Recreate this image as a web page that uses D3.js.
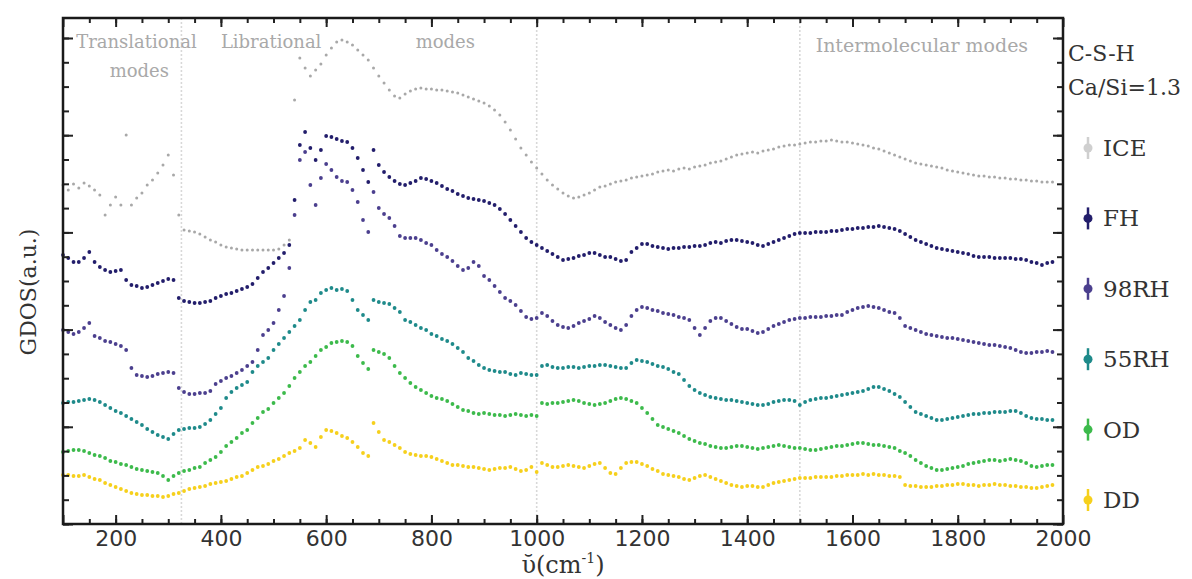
<!DOCTYPE html>
<html>
<head>
<meta charset="utf-8">
<script src="https://d3js.org/d3.v7.min.js"></script>
<style>
  body { margin: 0; background: #fff; }
</style>
</head>
<body>
<div id="my_dataviz"></div>
<script>
// wavenumber grid (cm-1), one reading every 10 cm-1
var wavenumbers = d3.range(100, 1981, 10);

// GDOS readings (a.u., stacked offsets as in the figure)
var iceValues = [
  339,334,340,336,341,338,334,329,309,319,
  327,319,389,319,326,331,339,344,351,359,
  369,349,309,294,293,292,290,287,284,282,
  279,277,276,275,274,274,274,274,274,274,
  274,275,279,284,424,466,456,448,454,460,
  469,476,482,484,482,479,474,469,464,456,
  448,441,434,428,426,430,433,435,436,435,
  435,434,434,433,432,431,429,427,425,423,
  421,418,414,409,402,394,385,376,369,362,
  356,350,344,339,335,331,328,326,327,329,
  331,334,337,338,340,342,343,344,346,347,
  348,349,350,352,353,354,353,355,356,355,
  357,358,359,361,362,363,365,367,369,370,
  371,372,371,373,374,375,377,378,379,379,
  380,381,382,382,383,383,384,383,382,382,
  381,380,379,378,376,375,373,371,369,367,
  365,363,361,360,359,358,357,356,354,353,
  352,351,350,349,348,348,347,347,346,346,
  345,345,344,344,343,343,342,342,342
];
var fhValues = [
  269,266,262,262,266,272,262,257,254,252,
  253,254,244,239,238,236,237,239,241,243,
  245,244,226,223,222,221,221,222,223,226,
  228,230,231,233,235,237,240,246,252,256,
  261,266,271,279,324,379,392,376,364,374,
  388,387,385,383,382,376,366,354,342,374,
  359,352,347,343,340,339,341,343,346,345,
  343,341,338,335,333,330,328,326,325,324,
  323,321,319,315,310,304,298,292,286,282,
  279,276,273,270,267,264,265,266,268,269,
  271,271,269,267,267,265,263,264,272,276,
  280,280,278,277,276,275,276,276,277,277,
  278,278,279,281,282,281,283,284,284,283,
  282,281,279,278,280,282,284,286,288,290,
  291,291,291,292,292,292,293,293,294,295,
  295,296,296,297,297,298,297,296,295,293,
  290,287,284,282,280,278,276,275,274,273,
  272,271,270,268,267,267,267,266,266,266,
  266,265,265,264,262,261,259,261,262
];
var rh98Values = [
  194,192,190,192,196,201,188,186,183,182,
  180,178,174,156,149,148,147,148,150,151,
  152,151,136,132,130,130,131,131,133,140,
  143,146,148,151,154,158,162,174,189,194,
  201,214,228,256,309,364,372,339,319,346,
  360,354,347,343,342,334,322,304,292,332,
  316,310,306,298,288,286,286,286,284,281,
  279,274,270,267,263,258,254,256,262,258,
  248,244,238,232,226,223,219,213,207,205,
  206,211,208,203,199,197,196,198,201,203,
  205,208,206,202,199,196,194,199,208,214,
  217,216,214,213,211,210,209,207,206,204,
  196,189,196,203,206,206,203,200,197,195,
  195,193,191,192,195,198,200,202,204,205,
  206,206,207,207,207,208,208,209,209,212,
  214,216,217,218,217,216,214,212,211,206,
  198,196,194,192,190,189,188,187,186,186,
  185,184,183,182,181,180,179,179,178,177,
  176,174,172,171,171,172,172,173,172
];
var rh55Values = [
  121,122,122,123,124,125,124,122,119,116,
  113,111,108,105,102,99,95,92,89,87,
  85,90,94,95,96,96,97,100,104,110,
  116,126,132,136,139,142,152,158,162,166,
  174,180,186,192,198,204,214,222,224,231,
  234,236,234,235,233,224,214,209,204,224,
  222,221,220,216,212,204,202,199,196,194,
  190,188,185,183,180,176,172,166,163,159,
  156,154,153,152,152,150,149,151,150,149,
  149,158,159,157,156,156,157,157,156,157,
  158,158,159,159,158,157,156,156,161,164,
  163,162,160,158,157,155,152,150,144,138,
  134,131,129,127,126,125,124,124,123,122,
  121,120,119,119,120,122,123,124,124,123,
  119,122,124,125,126,126,127,128,129,130,
  131,132,133,135,137,137,135,133,130,127,
  122,117,112,110,108,106,104,104,105,106,
  107,108,109,110,110,111,111,112,112,112,
  113,113,111,108,106,105,105,104,104
];
var odValues = [
  72,73,74,74,73,71,69,68,66,63,
  62,60,59,57,55,54,53,52,51,48,
  44,48,51,53,54,56,57,61,64,67,
  72,78,82,86,91,94,101,106,112,115,
  121,126,131,138,146,152,158,162,168,174,
  177,181,182,183,182,178,168,161,155,174,
  172,170,166,158,151,146,141,137,134,131,
  128,126,125,123,120,117,114,113,111,110,
  111,110,109,109,108,109,110,109,108,109,
  108,121,120,121,121,122,123,124,123,121,
  120,119,120,121,123,125,126,125,123,121,
  116,111,105,99,97,95,93,91,88,85,
  83,81,80,78,77,76,76,77,78,78,
  77,76,75,76,77,78,79,78,77,76,
  76,75,74,74,75,76,77,78,78,79,
  80,81,81,80,79,79,78,77,76,73,
  71,68,64,61,58,56,54,54,55,56,
  57,58,60,61,62,63,64,64,63,64,
  65,64,63,61,58,57,58,59,59
];
var ddValues = [
  49,49,48,48,49,47,45,44,41,39,
  37,35,33,31,30,29,29,28,28,27,
  28,30,31,33,35,36,37,38,40,41,
  42,43,45,47,48,51,54,57,58,60,
  63,65,68,71,73,76,84,81,77,87,
  94,93,91,88,86,82,77,71,68,101,
  92,84,82,79,76,72,70,69,68,68,
  67,65,63,61,59,59,58,57,57,56,
  55,54,55,56,56,57,55,53,54,57,
  52,61,59,57,57,58,59,58,57,56,
  58,60,61,56,51,50,56,61,62,62,
  60,58,55,53,50,49,48,47,45,44,
  46,48,49,47,45,43,41,39,38,37,
  38,38,37,37,39,41,42,43,44,45,
  46,46,46,47,47,47,47,48,48,49,
  49,49,50,49,50,49,49,48,48,47,
  39,38,38,37,37,37,38,38,39,39,
  40,40,39,39,38,39,39,40,39,39,
  38,38,37,37,36,36,37,38,39
];

var seriesNames = ["ICE", "FH", "98RH", "55RH", "OD", "DD"];
var seriesValues = [iceValues, fhValues, rh98Values, rh55Values, odValues, ddValues];
var seriesColors = ["#a8a8a8", "#221d6b", "#4b3f8e", "#1e8a8a", "#3cba4b", "#f6d01c"];
var legendColors = ["#cfcfcf", "#221d6b", "#4b3f8e", "#1e8a8a", "#3cba4b", "#f6d01c"];

var xMajorTicks = [100, 200, 400, 600, 800, 1000, 1200, 1400, 1600, 1800, 2000];
var xMinorTicks = d3.range(150, 2000, 50);
var yMajorStep = 97.2, yMinorStep = 24.3;
var regionLines = [325, 1000, 1500];
var regionLabels = [
  { text: "Translational", v: 125, y: 48, anchor: "start" },
  { text: "modes", v: 245, y: 77, anchor: "middle" },
  { text: "Librational", v: 400, y: 48, anchor: "start" },
  { text: "modes", v: 770, y: 48, anchor: "start" },
  { text: "Intermolecular modes", v: 1530, y: 52, anchor: "start" }
];

var margin = { top: 18, right: 129, bottom: 55, left: 63 },
    width = 1192 - margin.left - margin.right,
    height = 579 - margin.top - margin.bottom;

var svg = d3
    .select("#my_dataviz")
    .append("svg")
    .attr("width", 1192)
    .attr("height", 579)
    .append("g")
    .attr("transform", "translate(" + margin.left + "," + margin.top + ")");

var x = d3.scaleLinear().domain([100, 2000]).range([0, width]);
var y = d3.scaleLinear().domain([0, height]).range([height, 0]);

var yMajorTicks = d3.range(0, height, yMajorStep);
var yMinorTicks = d3.range(0, height, yMinorStep);

// region separators
svg.selectAll(".region-line")
    .data(regionLines)
    .enter()
    .append("line")
    .attr("x1", (d) => x(d))
    .attr("x2", (d) => x(d))
    .attr("y1", 0)
    .attr("y2", height)
    .style("stroke", "#d8d8d8")
    .style("stroke-width", 1.6)
    .style("stroke-dasharray", "2,2");

// region labels
svg.selectAll(".region-label")
    .data(regionLabels)
    .enter()
    .append("text")
    .attr("x", (d) => x(d.v))
    .attr("y", (d) => d.y - margin.top)
    .attr("text-anchor", (d) => d.anchor)
    .style("font-family", "DejaVu Serif")
    .style("font-size", (d) => (d.text.length > 15 ? "19px" : "18px"))
    .style("fill", "#a9a9a9")
    .text((d) => d.text);

// dots, ICE drawn first so the coloured sets sit on top
seriesValues.forEach(function (values, s) {
    svg.append("g")
        .selectAll("circle")
        .data(values.map((v, i) => ({ x: wavenumbers[i], y: v })))
        .enter()
        .append("circle")
        .attr("cx", (d) => x(d.x))
        .attr("cy", (d) => y(d.y))
        .attr("r", s === 0 ? 1.5 : 1.9)
        .style("fill", seriesColors[s]);
});

// axes: ticks on all four sides, pointing inward
function styleAxis(g) {
    g.select(".domain").remove();
    g.selectAll(".tick line").style("stroke", "#222").style("stroke-width", 2);
}
svg.append("g").attr("transform", "translate(0," + height + ")")
    .call(d3.axisBottom(x).tickValues(xMinorTicks).tickSize(-5).tickFormat(""))
    .call(styleAxis);
svg.append("g").attr("transform", "translate(0," + height + ")")
    .call(d3.axisBottom(x).tickValues(xMajorTicks).tickSize(-9).tickPadding(6)
        .tickFormat((d) => (d === 100 ? "" : d)))
    .call(styleAxis)
    .selectAll("text")
    .style("font-family", "DejaVu Sans")
    .style("font-size", "22px")
    .style("fill", "#333");
svg.append("g")
    .call(d3.axisTop(x).tickValues(xMinorTicks).tickSize(-5).tickFormat(""))
    .call(styleAxis);
svg.append("g")
    .call(d3.axisTop(x).tickValues(xMajorTicks).tickSize(-9).tickFormat(""))
    .call(styleAxis);
svg.append("g")
    .call(d3.axisLeft(y).tickValues(yMinorTicks).tickSize(-6).tickFormat(""))
    .call(styleAxis);
svg.append("g")
    .call(d3.axisLeft(y).tickValues(yMajorTicks).tickSize(-10).tickFormat(""))
    .call(styleAxis);
svg.append("g").attr("transform", "translate(" + width + ",0)")
    .call(d3.axisRight(y).tickValues(yMinorTicks).tickSize(-6).tickFormat(""))
    .call(styleAxis);
svg.append("g").attr("transform", "translate(" + width + ",0)")
    .call(d3.axisRight(y).tickValues(yMajorTicks).tickSize(-10).tickFormat(""))
    .call(styleAxis);

// frame
svg.append("rect")
    .attr("width", width)
    .attr("height", height)
    .style("fill", "none")
    .style("stroke", "#1a1a1a")
    .style("stroke-width", 2.5);

// axis titles
var xTitle = svg.append("text")
    .attr("x", x(1050))
    .attr("y", height + 49)
    .attr("text-anchor", "middle")
    .style("font-family", "DejaVu Serif")
    .style("font-size", "24px")
    .style("fill", "#333");
xTitle.append("tspan").text("\u1FE0(cm");
xTitle.append("tspan").attr("dy", -10).style("font-size", "14px").text("-1");
xTitle.append("tspan").attr("dy", 10).text(")");

svg.append("text")
    .attr("transform", "translate(" + (28 - margin.left) + "," + (292 - margin.top) + ") rotate(-90)")
    .attr("text-anchor", "middle")
    .attr("dy", "0.35em")
    .style("font-family", "DejaVu Serif")
    .style("font-size", "22px")
    .style("fill", "#333")
    .text("GDOS(a.u.)");

// legend
var legend = svg.append("g").attr("transform", "translate(" + (width + 5) + ",0)");
legend.append("text").attr("x", 0).attr("y", 61 - margin.top)
    .style("font-family", "DejaVu Serif").style("font-size", "22px").style("fill", "#333")
    .text("C-S-H");
legend.append("text").attr("x", 0).attr("y", 95 - margin.top)
    .style("font-family", "DejaVu Serif").style("font-size", "22px").style("fill", "#333")
    .text("Ca/Si=1.3");

var items = legend.selectAll(".legend-item")
    .data(seriesNames)
    .enter()
    .append("g")
    .attr("transform", (d, i) => "translate(0," + (148 + i * 70.4 - margin.top) + ")");
items.append("line")
    .attr("x1", 20).attr("x2", 20).attr("y1", -11).attr("y2", 11)
    .style("stroke", (d, i) => legendColors[i])
    .style("stroke-width", 2.5);
items.append("circle")
    .attr("cx", 20).attr("r", 4.5)
    .style("fill", (d, i) => legendColors[i]);
items.append("text")
    .attr("x", 35)
    .attr("y", 8)
    .style("font-family", "DejaVu Serif")
    .style("font-size", "23px")
    .style("fill", "#333")
    .text((d) => d);
</script>
</body>
</html>
